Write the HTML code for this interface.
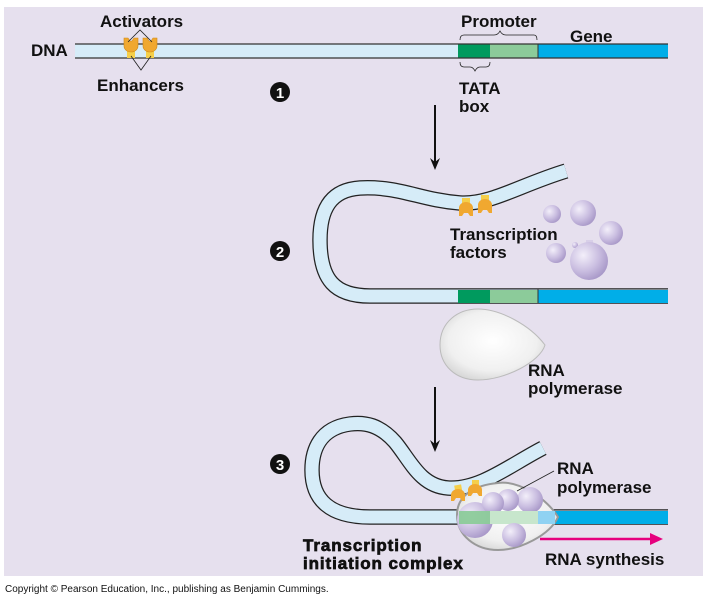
<!DOCTYPE html>
<html><head><meta charset="utf-8"><style>
html,body{margin:0;padding:0;background:#fff;}
svg{display:block;}
text{font-family:"Liberation Sans",Arial,sans-serif;font-weight:bold;fill:#111;}
</style></head><body>
<svg width="711" height="600" viewBox="0 0 711 600" xmlns="http://www.w3.org/2000/svg">
<defs>
<radialGradient id="pb" cx="0.35" cy="0.35" r="0.7">
<stop offset="0" stop-color="#f3effa"/><stop offset="0.6" stop-color="#c9bde0"/><stop offset="1" stop-color="#a898c8"/>
</radialGradient>
<radialGradient id="wb" cx="0.5" cy="0.45" r="0.6">
<stop offset="0" stop-color="#ffffff"/><stop offset="0.7" stop-color="#f0f0f0"/><stop offset="1" stop-color="#d4d4d4"/>
</radialGradient>
</defs>
<rect x="4" y="7" width="699" height="569" fill="#e6e0ee"/>

<!-- Step 1 DNA -->
<rect x="75" y="44" width="593" height="14" fill="#d6ecf8"/>
<rect x="458" y="44" width="32" height="14" fill="#009a5e"/>
<rect x="490" y="44" width="48" height="14" fill="#8ccb9a"/>
<rect x="538" y="44" width="130" height="14" fill="#00aee8"/>
<line x1="75" y1="44" x2="668" y2="44" stroke="#333" stroke-width="1.2"/>
<line x1="75" y1="58" x2="668" y2="58" stroke="#333" stroke-width="1.2"/>
<line x1="538" y1="44" x2="538" y2="58" stroke="#333" stroke-width="1"/>
<rect x="127" y="44" width="8" height="14" fill="#f5cf4a"/>
<rect x="146" y="44" width="8" height="14" fill="#f5cf4a"/>
<path d="M124,38 h4 l2,3 h2 l2,-3 h4 v8 a7,6 0 0 1 -14,0 z" fill="#f0a830" stroke="#d08a18" stroke-width="0.6"/>
<path d="M143,38 h4 l2,3 h2 l2,-3 h4 v8 a7,6 0 0 1 -14,0 z" fill="#f0a830" stroke="#d08a18" stroke-width="0.6"/>
<polyline points="128,42 140,30 152,42" fill="none" stroke="#222" stroke-width="0.8"/>
<polyline points="131,56 141,70 151,56" fill="none" stroke="#222" stroke-width="0.8"/>
<text x="100" y="27" font-size="17">Activators</text>
<text x="31" y="56" font-size="17">DNA</text>
<text x="97" y="91" font-size="17">Enhancers</text>
<text x="461" y="27" font-size="17">Promoter</text>
<text x="570" y="42" font-size="17">Gene</text>
<text x="459" y="94" font-size="17">TATA</text>
<text x="459" y="112" font-size="17">box</text>
<path d="M460,40 q0,-5 4,-5 h30 q4,0 6,-4 q2,4 6,4 h28 q3,0 3,5" fill="none" stroke="#222" stroke-width="0.8"/>
<path d="M460,62 q0,5 4,5 h6 q3,0 5,4 q2,-4 5,-4 h6 q4,0 4,-5" fill="none" stroke="#222" stroke-width="0.8"/>
<circle cx="280" cy="92" r="10" fill="#111"/><text x="280" y="98" font-size="15" text-anchor="middle" style="fill:#fff">1</text>
<line x1="435" y1="105" x2="435" y2="162" stroke="#111" stroke-width="2"/>
<path d="M430,158 L435,170 L440,158 L435,162 Z" fill="#111"/>

<!-- Step 2 -->
<path d="M566,171 C520,185 490,205 460,203 C420,200 400,186 360,188 C330,190 320,210 320,240 C320,280 335,296 370,296 L668,296" fill="none" stroke="#222" stroke-width="15.5"/>
<path d="M566,171 C520,185 490,205 460,203 C420,200 400,186 360,188 C330,190 320,210 320,240 C320,280 335,296 370,296 L668,296" fill="none" stroke="#d6ecf8" stroke-width="13"/>
<rect x="458" y="290" width="32" height="13" fill="#009a5e"/>
<rect x="490" y="290" width="48" height="13" fill="#8ccb9a"/>
<rect x="538" y="290" width="130" height="13" fill="#00aee8"/>
<line x1="538" y1="289" x2="538" y2="303" stroke="#333"/>
<rect x="462" y="198" width="8" height="10" fill="#f5cf4a"/>
<rect x="481" y="195" width="8" height="10" fill="#f5cf4a"/>
<path d="M459,208 a7,6 0 0 1 14,0 v8 h-3 l-2,-3 h-4 l-2,3 h-3 z" fill="#f0a830"/>
<path d="M478,205 a7,6 0 0 1 14,0 v8 h-3 l-2,-3 h-4 l-2,3 h-3 z" fill="#f0a830"/>
<text x="450" y="240" font-size="17">Transcription</text>
<text x="450" y="258" font-size="17">factors</text>
<circle cx="552" cy="214" r="9" fill="url(#pb)"/>
<circle cx="583" cy="213" r="13" fill="url(#pb)"/>
<circle cx="611" cy="233" r="12" fill="url(#pb)"/>
<circle cx="556" cy="253" r="10" fill="url(#pb)"/>
<circle cx="575" cy="245" r="3" fill="url(#pb)"/>
<rect x="586" y="240" width="7" height="6" fill="#d8cfe8"/>
<circle cx="589" cy="261" r="19" fill="url(#pb)"/>
<circle cx="280" cy="251" r="10" fill="#111"/><text x="280" y="257" font-size="15" text-anchor="middle" style="fill:#fff">2</text>
<path d="M478,309 C500,309 530,325 545,345 C540,362 505,380 478,380 C455,380 440,365 440,345 C440,322 458,309 478,309 Z" fill="url(#wb)" stroke="#bbb" stroke-width="1"/>
<text x="528" y="376" font-size="17">RNA</text>
<text x="528" y="394" font-size="17">polymerase</text>
<line x1="435" y1="387" x2="435" y2="444" stroke="#111" stroke-width="2"/>
<path d="M430,440 L435,452 L440,440 L435,444 Z" fill="#111"/>

<!-- Step 3 -->
<circle cx="280" cy="464" r="10" fill="#111"/><text x="280" y="470" font-size="15" text-anchor="middle" style="fill:#fff">3</text>
<path d="M543,448 C510,465 480,490 448,488 C420,486 410,460 395,442 C380,425 365,422 350,424 C320,428 312,450 312,470 C312,500 330,517 370,517 L668,517" fill="none" stroke="#222" stroke-width="15.5"/>
<path d="M543,448 C510,465 480,490 448,488 C420,486 410,460 395,442 C380,425 365,422 350,424 C320,428 312,450 312,470 C312,500 330,517 370,517 L668,517" fill="none" stroke="#d6ecf8" stroke-width="13"/>
<rect x="538" y="511" width="130" height="13" fill="#00aee8"/>
<path d="M498,483 C520,480 548,500 558,517 C550,535 520,550 498,550 C475,550 457,535 457,515 C457,495 475,485 498,483 Z" fill="url(#wb)" stroke="#999" stroke-width="2"/>
<circle cx="530" cy="500" r="13" fill="url(#pb)"/>
<circle cx="475" cy="520" r="18" fill="url(#pb)"/>
<circle cx="508" cy="500" r="11" fill="url(#pb)"/>
<circle cx="493" cy="503" r="11" fill="url(#pb)"/>
<rect x="459" y="511" width="31" height="13" fill="#8ccb9a" opacity="0.95"/>
<rect x="490" y="511" width="48" height="13" fill="#c7e6cc"/>
<rect x="538" y="511" width="17" height="13" fill="#8fd2f2"/>
<circle cx="514" cy="535" r="12" fill="url(#pb)"/>
<rect x="455" y="485" width="7" height="10" fill="#f5cf4a" transform="rotate(-10 458 490)"/>
<rect x="472" y="480" width="7" height="10" fill="#f5cf4a"/>
<path d="M451,495 a7,6 0 0 1 14,0 v6 h-3 l-2,-3 h-4 l-2,3 h-3 z" fill="#f0a830"/>
<path d="M468,490 a7,6 0 0 1 14,0 v6 h-3 l-2,-3 h-4 l-2,3 h-3 z" fill="#f0a830"/>
<line x1="517" y1="491" x2="554" y2="471" stroke="#222" stroke-width="0.8"/>
<text x="557" y="474" font-size="17">RNA</text>
<text x="557" y="493" font-size="17">polymerase</text>
<text x="303" y="551" font-size="17" letter-spacing="0.9" stroke="#111" stroke-width="0.7">Transcription</text>
<text x="303" y="569" font-size="17" letter-spacing="0.9" stroke="#111" stroke-width="0.7">initiation complex</text>
<line x1="540" y1="539" x2="652" y2="539" stroke="#e6007e" stroke-width="2.5"/>
<path d="M650,533 L663,539 L650,545 Z" fill="#e6007e"/>
<text x="545" y="565" font-size="17">RNA synthesis</text>
<text x="5" y="592" font-size="10" style="font-weight:normal">Copyright © Pearson Education, Inc., publishing as Benjamin Cummings.</text>
</svg>
</body></html>
